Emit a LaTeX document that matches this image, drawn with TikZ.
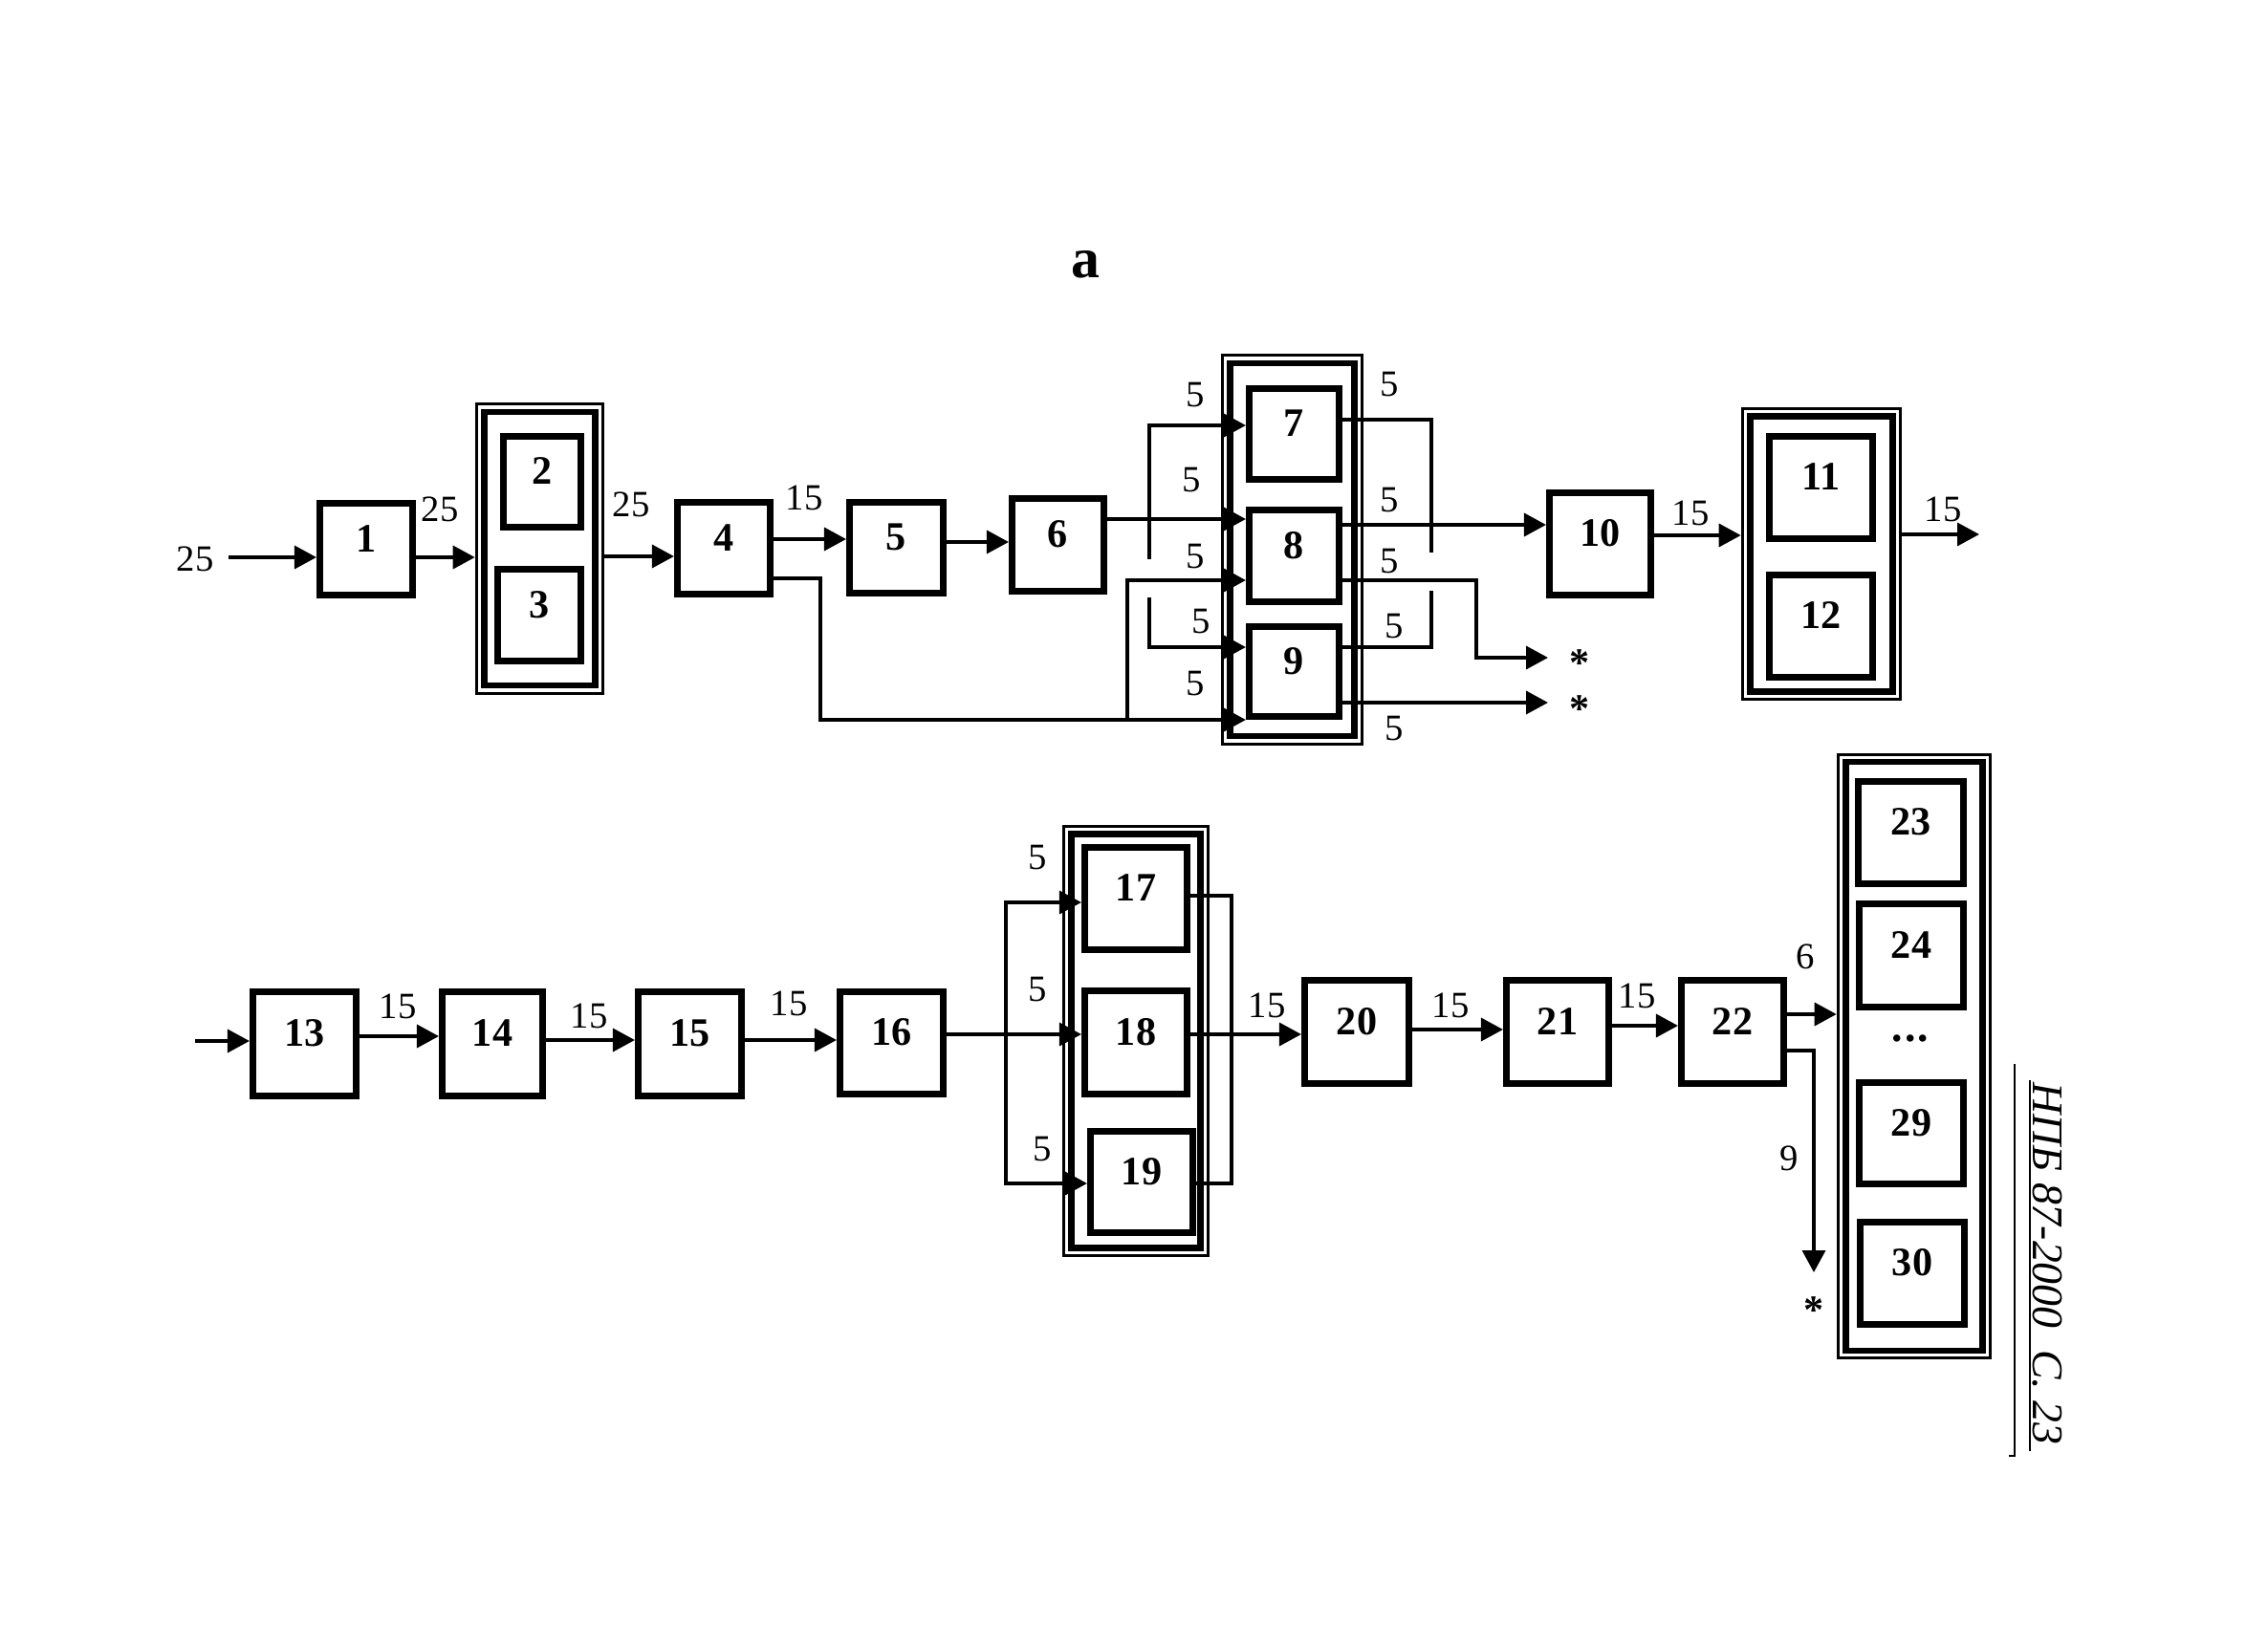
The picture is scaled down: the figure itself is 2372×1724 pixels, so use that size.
\documentclass[tikz,border=0pt]{standalone}
\usepackage{fontspec}
\setmainfont{Liberation Serif}
\usetikzlibrary{arrows.meta}
\begin{document}
\begin{tikzpicture}[x=0.01cm,y=-0.01cm,
 blk/.style={draw, line width=2pt, inner sep=0pt, font=\fontsize{12}{14}\selectfont\bfseries, text height=0.25cm, text depth=0.2cm},
 gout/.style={draw, line width=1pt, inner sep=0pt},
 gin/.style={draw, line width=1.8pt, inner sep=0pt},
 conn/.style={line width=1pt},
 arr/.style={conn, -{Triangle[length=0.23cm,width=0.24cm]}},
 lbl/.style={inner sep=0pt, font=\fontsize{11}{13}\selectfont},
 star/.style={inner sep=0pt, font=\fontsize{12}{14}\selectfont\bfseries},
]
\useasboundingbox (0,0) rectangle (2372,1724);

% title
\node[inner sep=0pt, font=\fontsize{17}{19}\selectfont\bfseries] (title) at (1135,277) {a};

% ---------- groups ----------
\node[gout, minimum width=1.32cm, minimum height=3.03cm] (g23) at (564.5,574) {};
\node[gin, minimum width=1.16cm, minimum height=2.86cm] (g23i) at (564.5,574) {};
\node[gout, minimum width=1.46cm, minimum height=4.07cm] (g79) at (1351.5,575) {};
\node[gin, minimum width=1.30cm, minimum height=3.90cm] (g79i) at (1351.5,575) {};
\node[gout, minimum width=1.65cm, minimum height=3.04cm] (g1112) at (1905,579.5) {};
\node[gin, minimum width=1.49cm, minimum height=2.88cm] (g1112i) at (1905,579.5) {};
\node[gout, minimum width=1.51cm, minimum height=4.49cm] (g1719) at (1188,1089) {};
\node[gin, minimum width=1.35cm, minimum height=4.33cm] (g1719i) at (1188,1089) {};
\node[gout, minimum width=1.59cm, minimum height=6.31cm] (g2330) at (2002,1105) {};
\node[gin, minimum width=1.43cm, minimum height=6.15cm] (g2330i) at (2002,1105) {};

% ---------- blocks ----------
\node[blk, minimum width=0.97cm, minimum height=0.96cm] (n1) at (383,574.5) {1};
\node[blk, minimum width=0.81cm, minimum height=0.95cm] (n2) at (567,504) {2};
\node[blk, minimum width=0.87cm, minimum height=0.96cm] (n3) at (564,643.5) {3};
\node[blk, minimum width=0.97cm, minimum height=0.96cm] (n4) at (757,573.5) {4};
\node[blk, minimum width=0.98cm, minimum height=0.95cm] (n5) at (937.5,573) {5};
\node[blk, minimum width=0.96cm, minimum height=0.97cm] (n6) at (1106.5,570) {6};
\node[blk, minimum width=0.94cm, minimum height=0.95cm] (n7) at (1353.5,454) {7};
\node[blk, minimum width=0.94cm, minimum height=0.96cm] (n8) at (1353.5,581.5) {8};
\node[blk, minimum width=0.94cm, minimum height=0.94cm] (n9) at (1353.5,702.5) {9};
\node[blk, minimum width=1.06cm, minimum height=1.07cm] (n10) at (1673.5,569) {10};
\node[blk, minimum width=1.08cm, minimum height=1.07cm] (n11) at (1904.5,510) {11};
\node[blk, minimum width=1.08cm, minimum height=1.07cm] (n12) at (1904.5,655) {12};

\node[blk, minimum width=1.08cm, minimum height=1.09cm] (n13) at (318.5,1092) {13};
\node[blk, minimum width=1.05cm, minimum height=1.09cm] (n14) at (515,1092) {14};
\node[blk, minimum width=1.08cm, minimum height=1.09cm] (n15) at (721.5,1092) {15};
\node[blk, minimum width=1.08cm, minimum height=1.07cm] (n16) at (932.5,1091) {16};
\node[blk, minimum width=1.07cm, minimum height=1.07cm] (n17) at (1188,940) {17};
\node[blk, minimum width=1.07cm, minimum height=1.08cm] (n18) at (1188,1090.5) {18};
\node[blk, minimum width=1.07cm, minimum height=1.06cm] (n19) at (1194,1236.5) {19};
\node[blk, minimum width=1.09cm, minimum height=1.08cm] (n20) at (1419,1079.5) {20};
\node[blk, minimum width=1.07cm, minimum height=1.08cm] (n21) at (1629,1079.5) {21};
\node[blk, minimum width=1.07cm, minimum height=1.08cm] (n22) at (1812,1079.5) {22};
\node[blk, minimum width=1.10cm, minimum height=1.07cm] (n23) at (1998.5,871) {23};
\node[blk, minimum width=1.09cm, minimum height=1.08cm] (n24) at (1999,999.5) {24};
\node[inner sep=0pt, font=\fontsize{13}{15}\selectfont\bfseries] (dots) at (1998,1086) {.\kern0.6pt.\kern0.6pt.};
\node[blk, minimum width=1.09cm, minimum height=1.06cm] (n29) at (1999,1185.5) {29};
\node[blk, minimum width=1.09cm, minimum height=1.07cm] (n30) at (2000,1332) {30};

% ---------- coordinates ----------
\coordinate (in1) at (239,583);
\coordinate (in2) at (204,1089);
\coordinate (ja) at (858,753);
\coordinate (jb) at (1179,753);
\coordinate (bl1) at (1202,585);
\coordinate (bl2) at (1202,625);
\coordinate (br1) at (1497,578);
\coordinate (br2) at (1497,618);
\coordinate (s1) at (1619,688);
\coordinate (s2) at (1619,735);
\coordinate (out1) at (2070,559);
\coordinate (jl) at (1052,1082);
\coordinate (jr) at (1288,1082);
\coordinate (s3) at (1897,1331);

% ---------- connectors, top ----------
\draw[arr] (in1) -- (n1.west |- in1);
\draw[arr] (n1.east |- 0,583) -- (g23.west |- 0,583);
\draw[arr] (g23.east |- 0,582) -- (n4.west |- 0,582);
\draw[arr] (n4.east |- 0,564) -- (n5.west |- 0,564);
\draw[arr] (n5.east |- 0,567) -- (n6.west |- 0,567);
\draw[arr] (n6.east |- 0,543) -- (n8.west |- 0,543);
\draw[arr] (n4.east |- 0,605) -| (ja) -- (n9.west |- 0,753);
\draw[arr] (jb) |- (n8.west |- 0,607);
\draw[arr] (bl1) |- (n7.west |- 0,445);
\draw[arr] (bl2) |- (n9.west |- 0,677);
\draw[conn] (n7.east |- 0,439) -| (br1);
\draw[conn] (n9.east |- 0,677) -| (br2);
\draw[arr] (n8.east |- 0,549) -- (n10.west |- 0,549);
\draw[arr] (n8.east |- 0,607) -| (1544,688) -- (s1);
\draw[arr] (n9.east |- 0,735) -- (s2);
\draw[arr] (n10.east |- 0,560) -- (g1112.west |- 0,560);
\draw[arr] (g1112.east |- out1) -- (out1);

% ---------- connectors, bottom ----------
\draw[arr] (in2) -- (n13.west |- in2);
\draw[arr] (n13.east |- 0,1084) -- (n14.west |- 0,1084);
\draw[arr] (n14.east |- 0,1088) -- (n15.west |- 0,1088);
\draw[arr] (n15.east |- 0,1088) -- (n16.west |- 0,1088);
\draw[arr] (n16.east |- 0,1082) -- (n18.west |- 0,1082);
\draw[arr] (jl) |- (n17.west |- 0,944);
\draw[arr] (jl) |- (n19.west |- 0,1238);
\draw[conn] (n17.east |- 0,937) -| (jr);
\draw[conn] (n19.east |- 0,1238) -| (jr);
\draw[arr] (n18.east |- 0,1082) -- (n20.west |- 0,1082);
\draw[arr] (n20.east |- 0,1077) -- (n21.west |- 0,1077);
\draw[arr] (n21.east |- 0,1073) -- (n22.west |- 0,1073);
\draw[arr] (n22.east |- 0,1061) -- (g2330.west |- 0,1061);
\draw[arr] (n22.east |- 0,1099) -| (s3);

% ---------- labels ----------
\node[lbl] (t1) at (204,585) {25};
\node[lbl] (t2) at (460,533) {25};
\node[lbl] (t3) at (660,528) {25};
\node[lbl] (t4) at (841,521) {15};
\node[lbl] (t5) at (1250,413) {5};
\node[lbl] (t6) at (1246,502) {5};
\node[lbl] (t7) at (1250,582) {5};
\node[lbl] (t8) at (1256,650) {5};
\node[lbl] (t9) at (1250,715) {5};
\node[lbl] (t10) at (1453,402) {5};
\node[lbl] (t11) at (1453,523) {5};
\node[lbl] (t12) at (1453,587) {5};
\node[lbl] (t13) at (1458,655) {5};
\node[lbl] (t14) at (1458,762) {5};
\node[star] (t15) at (1652,694) {*};
\node[star] (t16) at (1652,742) {*};
\node[lbl] (t17) at (1768,537) {15};
\node[lbl] (t18) at (2032,533) {15};
\node[lbl] (t19) at (416,1053) {15};
\node[lbl] (t20) at (616,1063) {15};
\node[lbl] (t21) at (825,1050) {15};
\node[lbl] (t22) at (1085,897) {5};
\node[lbl] (t23) at (1085,1035) {5};
\node[lbl] (t24) at (1090,1202) {5};
\node[lbl] (t25) at (1325,1052) {15};
\node[lbl] (t26) at (1517,1052) {15};
\node[lbl] (t27) at (1712,1042) {15};
\node[lbl] (t28) at (1888,1001) {6};
\node[lbl] (t29) at (1871,1212) {9};
\node[star] (t30) at (1897,1371) {*};

% ---------- page header ----------
\node[rotate=-90, inner sep=0pt, font=\fontsize{13}{15}\selectfont\itshape] (hdr) at (2141,1322) {НПБ 87-2000\ \ С. 23};
\draw[line width=0.7pt] (2107,1113) -- (2107,1523) -- (2101,1523);
\draw[line width=0.7pt] (2123,1130) -- (2123,1518);
\end{tikzpicture}
\end{document}
